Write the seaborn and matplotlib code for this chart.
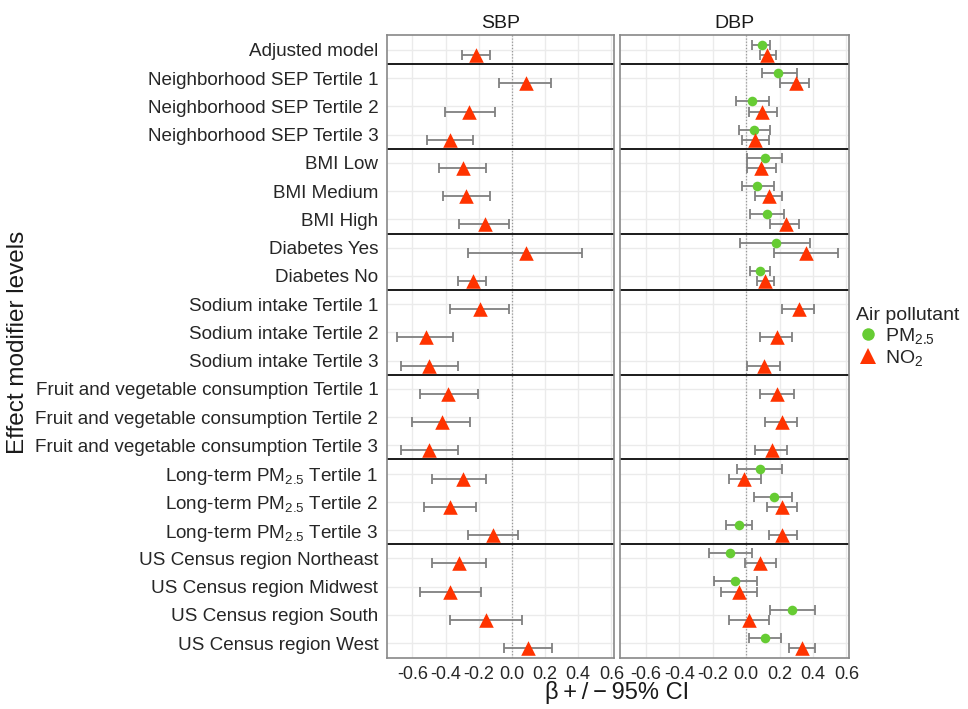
import numpy as np
import pandas as pd
import matplotlib
matplotlib.use("Agg")
import matplotlib.pyplot as plt
from matplotlib.lines import Line2D
import seaborn as sns

sns.set_theme(style="white")
plt.rcParams["font.family"] = ["Liberation Sans", "DejaVu Sans"]
plt.rcParams["mathtext.fontset"] = "custom"
plt.rcParams["mathtext.rm"] = "Liberation Sans"
plt.rcParams["mathtext.it"] = "Liberation Sans:italic"
plt.rcParams["mathtext.default"] = "regular"

levels = [
    "Adjusted model",
    "Neighborhood SEP Tertile 1", "Neighborhood SEP Tertile 2", "Neighborhood SEP Tertile 3",
    "BMI Low", "BMI Medium", "BMI High",
    "Diabetes Yes", "Diabetes No",
    "Sodium intake Tertile 1", "Sodium intake Tertile 2", "Sodium intake Tertile 3",
    "Fruit and vegetable consumption Tertile 1", "Fruit and vegetable consumption Tertile 2",
    "Fruit and vegetable consumption Tertile 3",
    "Long-term PM$_{2.5}$ Tertile 1", "Long-term PM$_{2.5}$ Tertile 2", "Long-term PM$_{2.5}$ Tertile 3",
    "US Census region Northeast", "US Census region Midwest", "US Census region South",
    "US Census region West",
]
group_breaks = [1, 4, 7, 9, 12, 15, 18]

nan = np.nan
sbp_no2_est = [-0.214, 0.084, -0.258, -0.374, -0.292, -0.274, -0.164, 0.084, -0.234, -0.194, -0.518,
               -0.50, -0.384, -0.424, -0.50, -0.294, -0.374, -0.114, -0.316, -0.374, -0.154, 0.098]
sbp_no2_lo = [-0.30, -0.076, -0.406, -0.514, -0.442, -0.414, -0.316, -0.266, -0.324, -0.374, -0.692,
              -0.67, -0.552, -0.602, -0.67, -0.48, -0.532, -0.266, -0.482, -0.552, -0.374, -0.046]
sbp_no2_hi = [-0.134, 0.234, -0.104, -0.234, -0.154, -0.134, -0.016, 0.422, -0.154, -0.016, -0.354,
              -0.322, -0.204, -0.254, -0.322, -0.154, -0.214, 0.034, -0.154, -0.184, 0.064, 0.242]

dbp_pm_est = [0.096, 0.192, 0.036, 0.048, 0.116, 0.066, 0.126, 0.176, 0.084, nan, nan,
              nan, nan, nan, nan, 0.082, 0.164, -0.044, -0.094, -0.064, 0.276, 0.116]
dbp_pm_lo = [0.036, 0.096, -0.062, -0.044, 0.006, -0.024, 0.026, -0.034, 0.024, nan, nan,
             nan, nan, nan, nan, -0.054, 0.046, -0.122, -0.222, -0.192, 0.146, 0.016]
dbp_pm_hi = [0.146, 0.304, 0.136, 0.146, 0.216, 0.164, 0.228, 0.384, 0.146, nan, nan,
             nan, nan, nan, nan, 0.216, 0.276, 0.038, 0.036, 0.066, 0.414, 0.208]

dbp_no2_est = [0.126, 0.296, 0.096, 0.056, 0.092, 0.136, 0.236, 0.356, 0.116, 0.314, 0.186,
               0.108, 0.186, 0.216, 0.156, -0.012, 0.216, 0.216, 0.086, -0.044, 0.016, 0.334]
dbp_no2_lo = [0.086, 0.204, 0.016, -0.024, 0.006, 0.056, 0.146, 0.164, 0.066, 0.216, 0.086,
              0.006, 0.086, 0.116, 0.056, -0.102, 0.126, 0.136, -0.004, -0.152, -0.102, 0.254]
dbp_no2_hi = [0.176, 0.374, 0.186, 0.136, 0.176, 0.216, 0.314, 0.552, 0.166, 0.406, 0.274,
              0.204, 0.284, 0.304, 0.246, 0.088, 0.304, 0.304, 0.176, 0.066, 0.136, 0.414]

x_ticks = [-0.6, -0.4, -0.2, 0.0, 0.2, 0.4, 0.6]
x_ticklabels = ["-0.6", "-0.4", "-0.2", "0.0", "0.2", "0.4", "0.6"]

pollutants = ["PM$_{2.5}$", "NO$_2$"]
colors = {"PM$_{2.5}$": "#66CC33", "NO$_2$": "#FF3300"}
markers = {"PM$_{2.5}$": "o", "NO$_2$": "^"}
msize = {"PM$_{2.5}$": 48, "NO$_2$": 110}
offset = {"PM$_{2.5}$": -0.18, "NO$_2$": 0.18}

rows = []
def add(outcome, pol, est, lo, hi):
    for i, (e, l, h) in enumerate(zip(est, lo, hi)):
        rows.append(dict(outcome=outcome, pollutant=pol, level=levels[i], row=i,
                         est=e, lo=l, hi=h))
add("SBP", "NO$_2$", sbp_no2_est, sbp_no2_lo, sbp_no2_hi)
add("DBP", "PM$_{2.5}$", dbp_pm_est, dbp_pm_lo, dbp_pm_hi)
add("DBP", "NO$_2$", dbp_no2_est, dbp_no2_lo, dbp_no2_hi)
df = pd.DataFrame(rows).dropna()
df["y"] = df["row"] + df["pollutant"].map(offset)

W, H = 968, 709
fig = plt.figure(figsize=(W / 100, H / 100), dpi=100)
top_px, bot_px = 35, 658
ax1 = fig.add_axes([386.7 / W, 1 - bot_px / H, 227.3 / W, (bot_px - top_px) / H])
ax2 = fig.add_axes([620 / W, 1 - bot_px / H, 229 / W, (bot_px - top_px) / H])

n = len(levels)
for ax, outcome in [(ax1, "SBP"), (ax2, "DBP")]:
    sub = df[df["outcome"] == outcome]
    ax.set_xlim(-0.755, 0.616)
    ax.set_ylim(n - 0.47, -0.53)
    for xt in x_ticks:
        ax.axvline(xt, color="#EBEBEB", lw=1.0, zorder=0)
    for i in range(n):
        ax.axhline(i, color="#EBEBEB", lw=1.0, zorder=0)
    ax.axvline(0, color="#999999", lw=0.9, ls=(0, (1, 1.5)), zorder=1)
    for b in group_breaks:
        ax.axhline(b - 0.5, color="#1A1A1A", lw=1.4, zorder=2)
    for pol in pollutants:
        s = sub[sub["pollutant"] == pol]
        if len(s) == 0:
            continue
        ax.errorbar(s["est"], s["y"], xerr=[s["est"] - s["lo"], s["hi"] - s["est"]],
                    fmt="none", ecolor="#808080", elinewidth=1.3, capsize=3.5,
                    capthick=1.3, zorder=3)
    for pol in pollutants:
        s = sub[sub["pollutant"] == pol]
        if len(s) == 0:
            continue
        sns.scatterplot(data=s, x="est", y="y", ax=ax, color=colors[pol],
                        marker=markers[pol], s=msize[pol], linewidth=0,
                        legend=False, zorder=4)
    ax.set_xticks(x_ticks)
    ax.set_xticklabels(x_ticklabels, fontsize=13.0, color="#262626")
    ax.set_xlabel("")
    ax.set_ylabel("")
    ax.set_title(outcome, fontsize=14, color="#1A1A1A", pad=5)
    ax.tick_params(axis="x", length=4, width=0.8, color="#333333", pad=2)
    for sp in ax.spines.values():
        sp.set_color("#888888")
        sp.set_linewidth(1.2)

ax1.set_yticks(range(n))
ax1.set_yticklabels(levels, fontsize=13.6, color="#262626")
ax1.tick_params(axis="y", length=4, width=0.8, color="#333333", pad=2)
ax2.set_yticks(range(n))
ax2.set_yticklabels([])
ax2.tick_params(axis="y", length=0)

fig.text(617 / W, 1 - 693 / H, "β\u2009+\u2009/\u2009−\u200995% CI", fontsize=17,
         ha="center", va="center", color="#1A1A1A")
fig.text(18 / W, 1 - 342 / H, "Effect modifier levels", fontsize=17.5, rotation=90,
         ha="center", va="center", color="#1A1A1A")

handles = [Line2D([], [], ls="none", marker=markers[p], color=colors[p],
                  markersize=(9 if p.startswith("PM") else 12), markeredgewidth=0)
           for p in pollutants]
leg = fig.legend(handles, pollutants, title="Air pollutant", loc="upper left",
                 bbox_to_anchor=(856 / W, 1 - 307 / H), frameon=False, fontsize=14,
                 title_fontsize=14, handletextpad=0.3, labelspacing=0.1,
                 handlelength=1.2, borderaxespad=0, borderpad=0)
leg._legend_box.align = "left"

fig.savefig("out.png", dpi=100)
